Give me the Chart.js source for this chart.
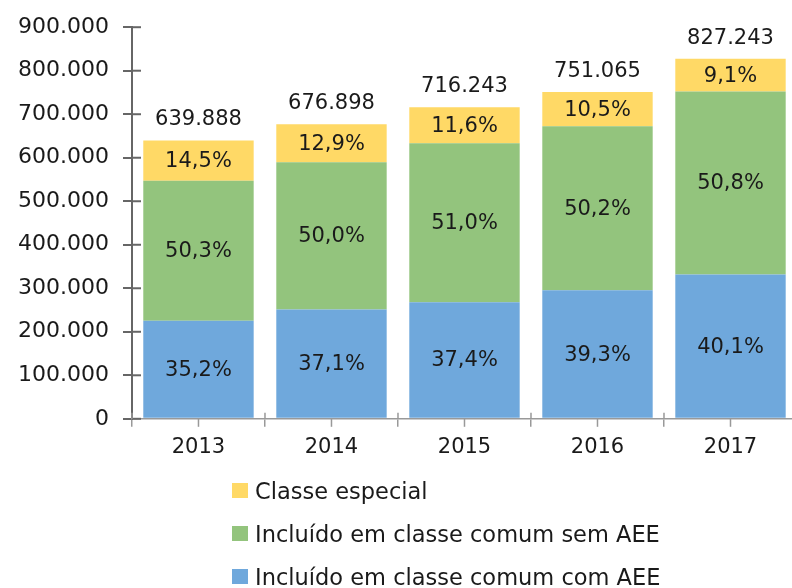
<!DOCTYPE html>
<html>
<head>
<meta charset="utf-8">
<script src="https://cdn.jsdelivr.net/npm/chart.js@4/dist/chart.umd.min.js"></script>
<style>
  html, body { margin: 0; padding: 0; background: #fff; overflow: hidden; }
  .wrap { position: relative; width: 797px; height: 588px; }
  .legend { position: absolute; left: 232px; top: 469px; font: 22.5px "DejaVu Sans", sans-serif; color: #1a1a1a; }
  .legend div { height: 43px; display: flex; align-items: center; }
  .legend span.box { display: inline-block; width: 16px; height: 15px; margin-right: 7px; }
</style>
</head>
<body>
<div class="wrap">
  <canvas class="js-alunos"></canvas>
  <div class="legend js-legend"></div>
</div>
<script>
const years = ["2013", "2014", "2015", "2016", "2017"];
const totals = [639888, 676898, 716243, 751065, 827243];

const comAEE = [225241, 251129, 267875, 295169, 331724];
const semAEE = [321864, 338449, 365284, 377035, 420239];
const especial = [92784, 87320, 83084, 78862, 75279];

const comAEEPct = ["35,2%", "37,1%", "37,4%", "39,3%", "40,1%"];
const semAEEPct = ["50,3%", "50,0%", "51,0%", "50,2%", "50,8%"];
const especialPct = ["14,5%", "12,9%", "11,6%", "10,5%", "9,1%"];

const yTicks = [0, 100000, 200000, 300000, 400000, 500000, 600000, 700000, 800000, 900000];

const fmt = (v) => String(v).replace(/\B(?=(\d{3})+(?!\d))/g, ".");
const FONT = "DejaVu Sans";

// percentages inside the bars, totals on top
const barLabels = {
  id: "barLabels",
  afterDatasetsDraw(chart) {
    const ctx = chart.ctx;
    ctx.save();
    ctx.font = "21px '" + FONT + "'";
    ctx.fillStyle = "#1a1a1a";
    ctx.textAlign = "center";
    ctx.textBaseline = "middle";
    chart.data.datasets.forEach((ds, di) => {
      chart.getDatasetMeta(di).data.forEach((bar, i) => {
        ctx.fillText(ds.pct[i], bar.x, (bar.y + bar.base) / 2 + 1);
      });
    });
    const top = chart.getDatasetMeta(chart.data.datasets.length - 1).data;
    ctx.textBaseline = "bottom";
    top.forEach((bar, i) => {
      ctx.fillText(fmt(totals[i]), bar.x, bar.y - 10);
    });
    ctx.restore();
  },
};

// small tick marks the reference has on the inner side / at category centres
const extraTicks = {
  id: "extraTicks",
  afterDraw(chart) {
    const { ctx, chartArea, scales } = chart;
    ctx.save();
    ctx.strokeStyle = "#666";
    ctx.lineWidth = 2;
    scales.y.ticks.forEach((t) => {
      const y = scales.y.getPixelForValue(t.value);
      ctx.beginPath();
      ctx.moveTo(chartArea.left, y);
      ctx.lineTo(chartArea.left + 9, y);
      ctx.stroke();
    });
    ctx.strokeStyle = "#999";
    ctx.lineWidth = 1.5;
    years.forEach((y, i) => {
      const x = scales.x.getPixelForValue(i);
      ctx.beginPath();
      ctx.moveTo(x, chartArea.bottom);
      ctx.lineTo(x, chartArea.bottom + 8);
      ctx.stroke();
      const b = x - (scales.x.width / years.length) / 2;
      ctx.beginPath();
      ctx.moveTo(b, chartArea.bottom - 6);
      ctx.lineTo(b, chartArea.bottom);
      ctx.stroke();
    });
    ctx.restore();
  },
};

const chartAlunos = function () {
  const el = document.querySelector(".js-alunos");

  const chart = new Chart(el, {
    type: "bar",
    data: {
      labels: years,
      datasets: [
        { label: "Incluído em classe comum com AEE", backgroundColor: "#6FA8DC", data: comAEE, pct: comAEEPct },
        { label: "Incluído em classe comum sem AEE", backgroundColor: "#93C47D", data: semAEE, pct: semAEEPct },
        { label: "Classe especial", backgroundColor: "#FFD966", data: especial, pct: especialPct },
      ],
    },
    options: {
      responsive: true,
      maintainAspectRatio: false,
      animation: false,
      datasets: { bar: { categoryPercentage: 1, barPercentage: 0.83 } },
      layout: { padding: { top: 13, left: 4, right: 0, bottom: 120 } },
      scales: {
        y: {
          stacked: true,
          min: 0,
          max: 900000,
          afterBuildTicks: (axis) => { axis.ticks = yTicks.map((v) => ({ value: v })); },
          border: { color: "#666", width: 2 },
          grid: { drawOnChartArea: false, tickLength: 9, color: "#666", lineWidth: 2 },
          ticks: {
            color: "#1a1a1a",
            padding: 14,
            font: { family: FONT, size: 22 },
            callback: (v) => fmt(v),
          },
        },
        x: {
          stacked: true,
          border: { color: "#999", width: 1.5 },
          grid: { drawOnChartArea: false, tickLength: 8, color: "#999", lineWidth: 1.5 },
          ticks: {
            color: "#1a1a1a",
            padding: 8,
            font: { family: FONT, size: 21 },
          },
        },
      },
      plugins: {
        legend: { display: false },
        tooltip: { enabled: false },
      },
    },
    plugins: [barLabels, extraTicks],
  });

  // legend as a vertical list, top series first
  const legend = document.querySelector(".js-legend");
  chart.data.datasets.slice().reverse().forEach((ds) => {
    const row = document.createElement("div");
    const box = document.createElement("span");
    box.className = "box";
    box.style.background = ds.backgroundColor;
    row.appendChild(box);
    row.appendChild(document.createTextNode(ds.label));
    legend.appendChild(row);
  });
};

chartAlunos();
</script>
</body>
</html>
